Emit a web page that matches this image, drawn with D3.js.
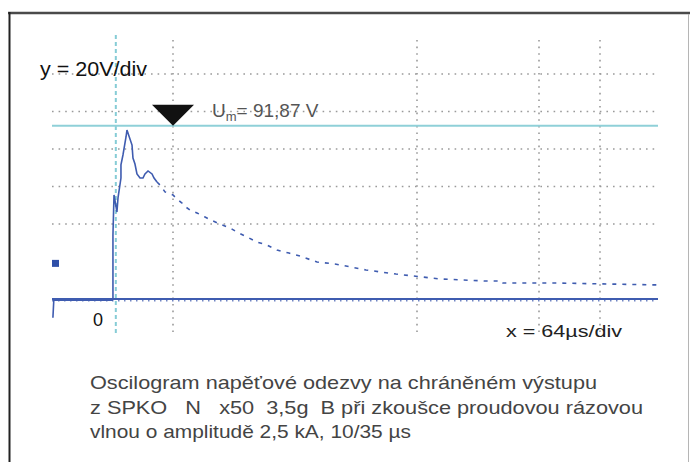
<!DOCTYPE html>
<html>
<head>
<meta charset="utf-8">
<style>
  body { margin: 0; background: #fff; }
  svg { display: block; }
  .grid line { stroke: #9a9a9a; stroke-width: 1.6; stroke-dasharray: 1.6 5; }
  .lbl { font-family: "Liberation Sans", Arial, sans-serif; white-space: pre; }
</style>
<script src="https://d3js.org/d3.v7.min.js"></script>
</head>
<body>
<script>
// oscilloscope trace [time in us, voltage in V]
var trace = [
  [-62, -10], [-61, 0], [1.0, 0], [1.0, 34.1], [2.1, 55.5], [5.2, 46.4], [6.3, 53.9],
  [9.4, 64.5], [9.4, 71.5], [11.5, 76.8], [14.7, 86.4], [15.7, 90.1], [17.8, 86.9],
  [21.0, 82.1], [22.0, 75.2], [24.1, 72.0], [26.2, 66.7], [29.4, 64.5], [32.5, 64.5],
  [34.6, 66.7], [37.8, 68.3], [42.0, 66.7], [44.1, 64.5], [47.2, 62.4], [50.4, 60.8],
  [55.6, 57.1], [58.7, 56.5], [64.0, 55.5], [68.2, 53.3], [73.4, 51.2], [74.5, 50.1],
  [81.8, 47.5], [89.2, 45.9], [97.6, 43.7], [106.0, 41.6], [115.4, 39.5], [123.8, 37.9],
  [131.1, 35.7], [141.6, 33.1], [152.1, 30.4], [162.6, 28.8], [173.1, 26.1], [185.7, 24.5],
  [197.2, 22.9], [215.1, 19.7], [233.9, 18.7], [266.4, 15.5], [297.9, 13.3], [326.2, 11.7],
  [344.1, 10.7], [391.3, 9.6], [409.2, 9.6], [410.2, 8.5], [454.3, 8.5], [469, 8.5], [571.8, 7.5]
];
var vGridTimes = [64, 320, 448, 512];          // visible vertical grid lines (us)
var hGridVolts = [40, 60, 80, 100, 120];       // visible horizontal grid lines (V)
var triggerTime = 4;                           // cyan dashed trigger marker (us)
var peakVolt = 91.87;                          // Um
var markerVolt = 19;                           // channel marker square
var caption = [
  "Oscilogram napěťové odezvy na chráněném výstupu",
  "z SPKO   N   x50  3,5g  B při zkoušce proudovou rázovou",
  "vlnou o amplitudě 2,5 kA, 10/35 µs"
];

var W = 690, H = 462;
var svg = d3.select("body").append("svg").attr("width", W).attr("height", H);

var x = d3.scaleLinear().domain([-64, 576]).range([51, 661]);
var y = d3.scaleLinear().domain([-20, 140]).range([336.5, 36.5]);

// frame
svg.append("line").attr("x1", 8).attr("x2", 690).attr("y1", 13).attr("y2", 13)
  .attr("stroke", "#4a4a4a").attr("stroke-width", 2.5);
svg.append("line").attr("x1", 9.5).attr("x2", 9.5).attr("y1", 12).attr("y2", H)
  .attr("stroke", "#222").attr("stroke-width", 2);
svg.append("line").attr("x1", 688.5).attr("x2", 688.5).attr("y1", 14).attr("y2", H)
  .attr("stroke", "#b5b5b5").attr("stroke-width", 1);

// gridlines
var grid = svg.append("g").attr("class", "grid");
grid.selectAll(".h").data(hGridVolts).enter().append("line")
  .attr("x1", 52).attr("x2", 655)
  .attr("y1", function(d) { return y(d); }).attr("y2", function(d) { return y(d); });
grid.selectAll(".v").data(vGridTimes).enter().append("line")
  .attr("x1", function(d) { return x(d); }).attr("x2", function(d) { return x(d); })
  .attr("y1", 40).attr("y2", 334);

// cyan reference lines
svg.append("line").attr("x1", x(triggerTime)).attr("x2", x(triggerTime))
  .attr("y1", 35).attr("y2", 336)
  .attr("stroke", "#86ccd6").attr("stroke-width", 2).attr("stroke-dasharray", "4 3");
svg.append("line").attr("x1", 52).attr("x2", 658)
  .attr("y1", y(peakVolt) - 1).attr("y2", y(peakVolt) - 1)
  .attr("stroke", "#8fd0d8").attr("stroke-width", 2);

// ground line and ticks
svg.append("line").attr("x1", 52).attr("x2", 658).attr("y1", y(0)).attr("y2", y(0))
  .attr("stroke", "#3f5cb0").attr("stroke-width", 2.2);
svg.append("line").attr("x1", 52).attr("x2", 658).attr("y1", y(0) + 1.8).attr("y2", y(0) + 1.8)
  .attr("stroke", "#7085c4").attr("stroke-width", 1.4).attr("stroke-dasharray", "1.5 4.5");

// trace
var line = d3.line().x(function(d) { return x(d[0]); }).y(function(d) { return y(d[1]); });
svg.append("path").datum(trace.filter(function(d) { return d[0] <= 48; }))
  .attr("d", line).attr("fill", "none").attr("stroke", "#3f5cb0").attr("stroke-width", 1.6);
svg.append("path").datum(trace.filter(function(d) { return d[0] >= 47; }))
  .attr("d", line).attr("fill", "none").attr("stroke", "#3f5cb0").attr("stroke-width", 1.6)
  .attr("stroke-dasharray", "4 6");
svg.append("line").attr("x1", x(-61)).attr("x2", x(1)).attr("y1", y(0) + 1).attr("y2", y(0) + 1)
  .attr("stroke", "#3f5cb0").attr("stroke-width", 2);

// channel marker
svg.append("rect").attr("x", 52).attr("y", y(markerVolt) - 3.5).attr("width", 7).attr("height", 7)
  .attr("fill", "#2f4fa8");

// peak triangle marker
var tx = x(64), ty = y(peakVolt) - 1;
svg.append("path")
  .attr("d", "M" + (tx - 21) + "," + (ty - 21) + "L" + (tx + 21) + "," + (ty - 21) + "L" + tx + "," + ty + "Z")
  .attr("fill", "#111");

// labels
svg.append("text").attr("class", "lbl").attr("x", 40).attr("y", 76)
  .attr("font-size", 20).attr("fill", "#111").attr("textLength", 107)
  .attr("lengthAdjust", "spacingAndGlyphs").text("y = 20V/div");

var um = svg.append("text").attr("class", "lbl").attr("x", 212).attr("y", 117)
  .attr("font-size", 19).attr("fill", "#555");
um.append("tspan").text("U");
um.append("tspan").attr("font-size", 13).attr("dy", 4).text("m");
um.append("tspan").attr("dy", -4).text("= 91,87 V");

svg.append("text").attr("class", "lbl").attr("x", 93).attr("y", 326)
  .attr("font-size", 18).attr("fill", "#111").text("0");
svg.append("text").attr("class", "lbl").attr("x", 506).attr("y", 337)
  .attr("font-size", 17).attr("fill", "#222").attr("textLength", 116)
  .attr("lengthAdjust", "spacingAndGlyphs").text("x = 64µs/div");

var capLens = [507, 553, 321];
svg.selectAll(".cap").data(caption).enter().append("text").attr("class", "lbl")
  .attr("x", 90).attr("y", function(d, i) { return 389 + i * 24.5; })
  .attr("font-size", 19).attr("fill", "#444")
  .attr("textLength", function(d, i) { return capLens[i]; })
  .attr("lengthAdjust", "spacingAndGlyphs")
  .text(function(d) { return d; });
</script>
</body>
</html>
